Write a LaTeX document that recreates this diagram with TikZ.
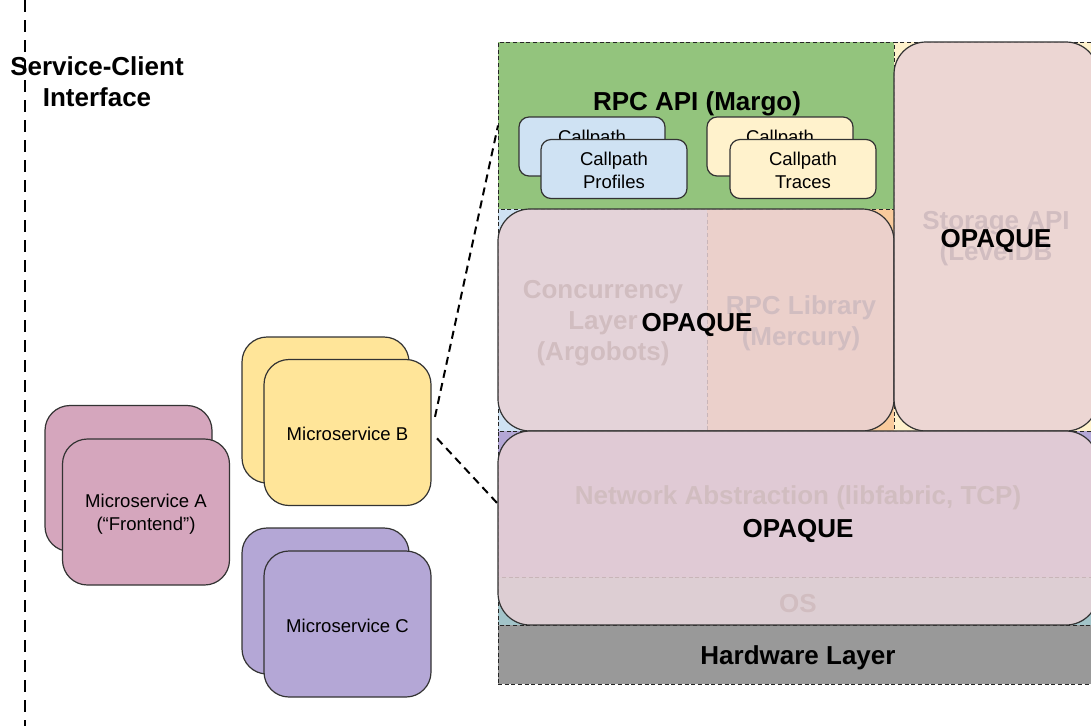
\documentclass[tikz,border=0pt]{standalone}
\usepackage{fontspec}
\setmainfont{Liberation Sans}
\usetikzlibrary{positioning}

\definecolor{rpcgreen}{HTML}{93C47D}
\definecolor{concblue}{HTML}{CFE2F3}
\definecolor{liborange}{HTML}{F9CB9C}
\definecolor{storeyellow}{HTML}{FFF2CC}
\definecolor{netpurple}{HTML}{B4A7D6}
\definecolor{osteal}{HTML}{A2C4C9}
\definecolor{hwgray}{HTML}{999999}
\definecolor{msApink}{HTML}{D5A6BD}
\definecolor{msByellow}{HTML}{FFE599}
\definecolor{msCpurple}{HTML}{B4A7D6}
\definecolor{opaquepink}{HTML}{E9D1D5}
\definecolor{fadedtext}{HTML}{555555}
\definecolor{edgegray}{HTML}{333333}

\newcommand{\smalltxt}{\fontsize{13.9}{17.25}\selectfont}
\newcommand{\bigtxt}{\fontsize{19.5}{23.25}\selectfont\bfseries}

\tikzset{
  layer/.style={draw=black!85, dash pattern=on 3pt off 2pt, line width=0.6pt,
    inner sep=0pt, outer sep=0pt},
  opaquebox/.style={draw=edgegray, line width=0.9pt, fill=opaquepink,
    fill opacity=0.84, text opacity=1, rounded corners=24pt,
    inner sep=0pt, outer sep=0pt},
  msbox/.style={draw=edgegray, line width=0.9pt, rounded corners=18.75pt,
    minimum width=125.25pt, minimum height=109.5pt, inner sep=0pt},
  cpbox/.style={draw=edgegray, line width=0.9pt, rounded corners=7.5pt,
    minimum width=109.5pt, minimum height=44.25pt, inner sep=0pt},
  smalllbl/.style={align=center, font=\smalltxt, inner sep=0pt},
  biglbl/.style={align=center, font=\bigtxt, inner sep=0pt},
  fadedlbl/.style={biglbl, text=fadedtext},
  link/.style={line width=1.5pt, dash pattern=on 6pt off 4pt},
  sepline/.style={line width=1.5pt, dash pattern=on 9pt off 6pt}
}

\begin{document}
\begin{tikzpicture}[x=0.75pt,y=0.75pt,yscale=-1,xscale=1]
\useasboundingbox (0,0) rectangle (1091,726);
\clip (0,0) rectangle (1091,726);

%Separator: service-client interface
\draw[sepline] (25,0) -- (25,726);
% Text Node
\node[biglbl] (sci) at (97,82) {Service-Client\\Interface};

%Shape: Layers of the service stack
\node[layer, fill=rpcgreen, minimum width=297pt, minimum height=125.25pt] (rpc) at (696,125.5) {};
\node[layer, fill=concblue, minimum width=156.75pt, minimum height=166.5pt] (conc) at (602.5,320) {};
\node[layer, fill=liborange, minimum width=140.25pt, minimum height=166.5pt] (rpclib) at (800.5,320) {};
\node[layer, fill=storeyellow, minimum width=153pt, minimum height=291.75pt] (store) at (996,236.5) {};
\node[layer, fill=netpurple, minimum width=450pt, minimum height=109.5pt] (net) at (798,504) {};
\node[layer, fill=osteal, minimum width=450pt, minimum height=36pt] (os) at (798,601) {};
\node[layer, fill=hwgray, minimum width=450pt, minimum height=44.25pt] (hw) at (798,654.5) {};

% Text Node
\node[fadedlbl] (conclbl) at (603,323) {Concurrency\\Layer\\(Argobots)};
\node[fadedlbl] (rpcliblbl) at (801,323) {RPC Library\\(Mercury)};
\node[fadedlbl] (storelbl) at (996,239) {Storage API\\(LevelDB};
\node[fadedlbl] (netlbl) at (798,498) {Network Abstraction (libfabric, TCP)};
\node[fadedlbl] (oslbl) at (798,604) {OS};
\node[biglbl] (hwlbl) at (798,658) {Hardware Layer};

%Shape: Opaque overlays
\node[opaquebox, minimum width=297pt, minimum height=166.5pt] (opq1) at (696,320) {};
\node[opaquebox, minimum width=153pt, minimum height=291.75pt] (opq2) at (996,236.5) {};
\node[opaquebox, minimum width=450pt, minimum height=145.5pt] (opq3) at (798,528) {};
% Text Node
\node[biglbl] (opq1lbl) at (697,325) {OPAQUE};
\node[biglbl] (opq2lbl) at (996,241) {OPAQUE};
\node[biglbl] (opq3lbl) at (798,531) {OPAQUE};

%Shape: RPC API and callpath boxes
\node[biglbl] (rpctitle) at (697,104) {RPC API (Margo)};
\node[cpbox, fill=concblue] (cpPback) at (592,146.5) {};
\node[smalllbl] at (592,148) {Callpath\\\phantom{Profiles}};
\node[cpbox, fill=concblue] (cpP) at (614,169) {};
\node[smalllbl] (cpPlbl) at (614,170.5) {Callpath\\Profiles};
\node[cpbox, fill=storeyellow] (cpTback) at (780,146.5) {};
\node[smalllbl] at (780,148) {Callpath\\\phantom{Traces}};
\node[cpbox, fill=storeyellow] (cpT) at (803,169) {};
\node[smalllbl] (cpTlbl) at (803,170.5) {Callpath\\Traces};

%Shape: Microservices
\node[msbox, fill=msApink] (msAback) at (128.5,478.5) {};
\node[msbox, fill=msApink] (msA) at (146,512) {};
\node[smalllbl] (msAlbl) at (146,514) {Microservice A\\(``Frontend'')};
\node[msbox, fill=msByellow] (msBback) at (325.5,410) {};
\node[msbox, fill=msByellow] (msB) at (347.5,432.5) {};
\node[smalllbl] (msBlbl) at (347.5,434) {Microservice B};
\node[msbox, fill=msCpurple] (msCback) at (325.5,601) {};
\node[msbox, fill=msCpurple] (msC) at (347.5,624) {};
\node[smalllbl] (msClbl) at (347.5,625.5) {Microservice C};

%Straight Lines: zoom into microservice B
\draw[link, shorten <=12pt] (msB.east) -- (rpc.west);
\draw[link, shorten <=6pt] (msB.east) -- (net.west);
\end{tikzpicture}
\end{document}
